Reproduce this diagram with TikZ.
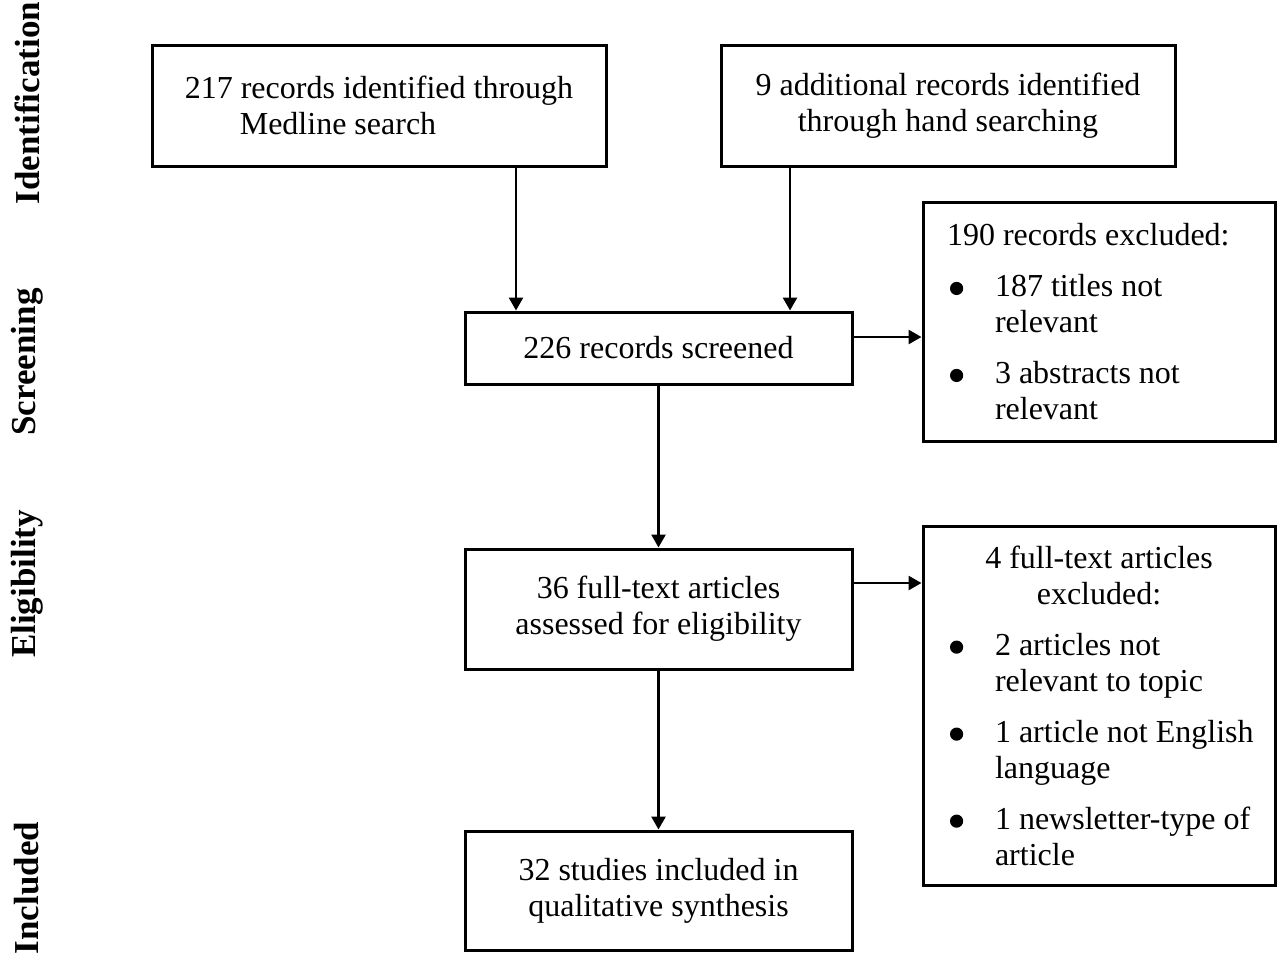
\documentclass[tikz,border=0pt]{standalone}
\usepackage{fontspec}
\setmainfont{Liberation Serif}
\usetikzlibrary{positioning,arrows.meta}

\tikzset{
  box/.style={draw, rectangle, line width=1.5pt, inner sep=0pt, align=center,
    font=\fontsize{16}{18}\selectfont},
  exclbox/.style={box, minimum width=176pt, text width=152pt, align=flush left},
  arr/.style={-{Triangle[length=6.5pt,width=7pt]}, line width=1.3pt},
  stage/.style={rotate=90, font=\fontsize{17.5}{20}\selectfont\bfseries},
}
\newcommand{\dotmark}{\tikz[baseline=-4pt]\fill (0,0) circle[radius=3.3pt];}
\newcommand{\bul}[1]{\makebox[24pt][l]{\hspace*{1.5pt}\dotmark}\mbox{#1}}
\newcommand{\ind}{\hspace*{24pt}}

\begin{document}
\begin{tikzpicture}[x=0.5pt, y=-0.5pt]
        \useasboundingbox (0,0) rectangle (1277,955);

        % Stage labels
        \node[stage] (ident) at (27,103) {Identification};
        \node[stage] (screen) at (27,362) {Screening};
        \node[stage] (elig) at (27,584) {Eligibility};
        \node[stage] (incl) at (27,888) {Included};

        % Nodes
        \node[box, minimum width=227pt, minimum height=60.5pt, align=left] (medline) at (379,105.5)
            {217 records identified through\\\hspace*{27.5pt}Medline search};
        \node[box, minimum width=227pt, minimum height=60.5pt] (hand) at (948,105.5)
            {9 additional records identified\\through hand searching};
        \node[box, minimum width=193.5pt, minimum height=36pt] (screened) at (658.5,348)
            {226 records screened};
        \node[box, minimum width=193.5pt, minimum height=60pt] (fulltext) at (658.5,609)
            {36 full-text articles\\assessed for eligibility};
        \node[box, minimum width=193.5pt, minimum height=59.5pt] (studies) at (658.5,890.5)
            {32 studies included in\\qualitative synthesis};

        % Exclusion boxes
        \node[exclbox, minimum height=119.5pt] (excl1) at (1099,321.5)
            {190 records excluded:\\[7.5pt]
             \bul{187 titles not}\\
             \ind relevant\\[7.5pt]
             \bul{3 abstracts not}\\
             \ind relevant};
        \node[exclbox, minimum height=179.5pt] (excl2) at (1099,705.5)
            {\makebox[152pt]{4 full-text articles}\\
             \makebox[152pt]{excluded:}\\[7.5pt]
             \bul{2 articles not}\\
             \ind relevant to topic\\[7.5pt]
             \bul{1 article not English}\\
             \ind language\\[7.5pt]
             \bul{1 newsletter-type of}\\
             \ind article};

        % Arrows
        \draw[arr] ([xshift=68.5pt]medline.south) -- ([xshift=68.5pt]medline.south |- screened.north);
        \draw[arr] ([xshift=-79pt]hand.south) -- ([xshift=-79pt]hand.south |- screened.north);
        \draw[arr] ([yshift=5.5pt]screened.east) -- ([yshift=5.5pt]screened.east -| excl1.west);
        \draw[arr] (screened.south) -- (fulltext.north);
        \draw[arr] ([yshift=13pt]fulltext.east) -- ([yshift=13pt]fulltext.east -| excl2.west);
        \draw[arr] (fulltext.south) -- (studies.north);
\end{tikzpicture}
\end{document}
